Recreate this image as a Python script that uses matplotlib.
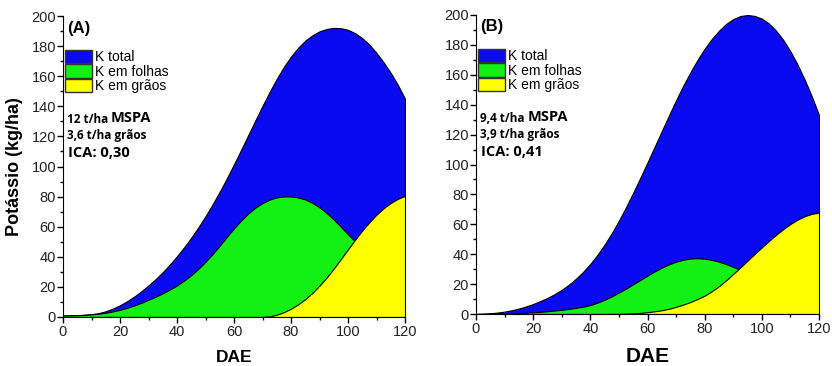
import matplotlib
matplotlib.use("Agg")
import matplotlib.pyplot as plt
from matplotlib.patches import Patch
from matplotlib.ticker import MultipleLocator

dae = [0, 2.5, 5, 7.5, 10, 12.5, 15, 17.5, 20, 22.5, 25, 27.5, 30, 32.5, 35, 37.5,
       40, 42.5, 45, 47.5, 50, 52.5, 55, 57.5, 60, 62.5, 65, 67.5, 70, 72.5, 75, 77.5,
       80, 82.5, 85, 87.5, 90, 92.5, 95, 97.5, 100, 102.5, 105, 107.5, 110, 112.5, 115, 117.5, 120]

total_a = [1, 1.1, 1.25, 1.5, 1.9, 2.6, 3.8, 5.6, 7.8, 10.5, 13.6, 17.1, 21, 25.2, 29.8, 34.9,
           40.4, 46.3, 52.7, 59.6, 67, 74.9, 83.3, 92.2, 101.5, 111.1, 120.9, 130.7, 140.3, 149.6, 158.3, 166.2,
           173.1, 178.9, 183.6, 187.2, 189.8, 191.4, 192.1, 191.9, 190.8, 188.6, 185.3, 180.9, 175.5, 169.2, 162.2, 154.2, 145]
folhas_a = [1, 1.08, 1.2, 1.4, 1.7, 2.15, 2.8, 3.7, 4.8, 6.1, 7.65, 9.45, 11.45, 13.5, 15.75, 18.25,
            21, 24.2, 27.85, 32, 36.7, 41.9, 47.45, 53.2, 58.9, 64.15, 68.8, 72.7, 75.75, 78, 79.5, 80.1,
            80.1, 79.45, 78.05, 75.85, 72.85, 69.1, 64.75, 59.95, 54.95, 50.05, 45.35, 40.85, 36.6, 32.6, 28.85, 25.35, 22.1]
graos_a = [0, 0, 0, 0, 0, 0, 0, 0, 0, 0, 0, 0, 0, 0, 0, 0,
           0, 0, 0, 0, 0, 0, 0, 0, 0, 0, 0, 0, 0, 0.4, 1.5, 3.2,
           5.5, 8.4, 11.9, 16, 20.8, 26.2, 32.2, 38.5, 45, 51.4, 57.5, 63, 68, 72.3, 75.8, 78.5, 80.5]

total_b = [0, 0.2, 0.5, 0.95, 1.6, 2.5, 3.65, 5.05, 6.7, 8.65, 10.78, 13.28, 16.2, 19.63, 23.63, 28.25,
           33.55, 39.6, 46.45, 54.1, 62.5, 71.55, 81.15, 91.15, 101.45, 111.9, 122.4, 132.8, 143, 152.7, 161.7, 170,
           177.5, 184, 189.5, 194, 197.3, 199.3, 200, 199.4, 197.6, 194.3, 189.5, 183.3, 175.7, 166.8, 156.7, 145.5, 133]
folhas_b = [0, 0.05, 0.1, 0.2, 0.3, 0.45, 0.65, 0.85, 1.1, 1.45, 1.85, 2.3, 2.8, 3.4, 4.1, 4.9,
            6, 7.6, 9.5, 11.8, 14.3, 17, 19.9, 22.8, 25.7, 28.5, 31, 33.2, 35, 36.3, 37.1, 37.3,
            37, 36.2, 35, 33.4, 31.5, 29.5, 27.4, 25.3, 23.2, 21.1, 19.1, 17.2, 15.4, 13.8, 12.4, 11.2, 10.2]
graos_b = [0, 0, 0, 0, 0, 0, 0, 0, 0, 0, 0, 0, 0, 0, 0, 0,
           0, 0, 0, 0, 0.05, 0.2, 0.45, 0.75, 1.2, 1.8, 2.5, 3.5, 4.8, 6.3, 8, 10,
           12.3, 15.2, 18.6, 22.5, 26.8, 31.2, 35.7, 40.2, 44.6, 48.9, 53, 56.8, 60.2, 63.1, 65.4, 67, 67.8]

series_labels = ["K total", "K em folhas", "K em grãos"]
panel_labels = ["(A)", "(B)"]
info_a = ["12 t/ha", "MSPA", "3,6 t/ha grãos", "ICA: 0,30"]
info_b = ["9,4 t/ha", "MSPA", "3,9 t/ha grãos", "ICA: 0,41"]

colors = ["#0A0AF0", "#14F014", "#FFFF00"]

fig = plt.figure(figsize=(8.32, 3.66), dpi=100)
W, H = 832, 366

def add_axes(x0, x1, y0, y1):
    return fig.add_axes([x0 / W, 1 - y0 / H, (x1 - x0) / W, (y0 - y1) / H])

axA = add_axes(63, 405, 317, 16)
axB = add_axes(476, 819, 314, 15)

def draw(ax, total, folhas, graos, plabel, info, dae_fs, legend_x, legend_y, info_y):
    ax.fill_between(dae, 0, total, facecolor=colors[0], edgecolor="black", linewidth=0.8)
    ax.fill_between(dae, 0, folhas, facecolor=colors[1], edgecolor="black", linewidth=0.8)
    ax.fill_between(dae, 0, graos, facecolor=colors[2], edgecolor="black", linewidth=0.8)
    ax.set_xlim(0, 120)
    ax.set_ylim(0, 200)
    ax.spines["top"].set_visible(False)
    ax.spines["right"].set_visible(False)
    ax.xaxis.set_major_locator(MultipleLocator(20))
    ax.xaxis.set_minor_locator(MultipleLocator(10))
    ax.yaxis.set_major_locator(MultipleLocator(20))
    ax.yaxis.set_minor_locator(MultipleLocator(10))
    ax.tick_params(which="major", direction="out", length=4, width=1, labelsize=10.5)
    ax.tick_params(which="minor", direction="out", length=2.5, width=1)
    ax.tick_params(axis="x", pad=2)
    ax.tick_params(axis="y", pad=1)
    for lab in ax.get_xticklabels() + ax.get_yticklabels():
        lab.set_fontfamily("Liberation Sans")
        lab.set_color("#222222")
    ax.set_xlabel("DAE", fontsize=dae_fs, fontweight="bold", family="Liberation Sans", labelpad=8)
    ax.text(0.012, 0.985, plabel, transform=ax.transAxes, ha="left", va="top",
            fontsize=12, fontweight="bold", family="Liberation Sans")
    handles = [Patch(facecolor=c, edgecolor="#333333", linewidth=1) for c in colors]
    ax.legend(handles, series_labels, loc="upper left", bbox_to_anchor=(legend_x, legend_y),
              frameon=False, handlelength=1.95, handleheight=1.1,
              labelspacing=0.0, handletextpad=0.2, borderpad=0, borderaxespad=0,
              prop={"family": "Liberation Sans", "size": 10})
    t1 = ax.text(legend_x + 0.005, info_y, info[0] + " ", transform=ax.transAxes, ha="left", va="center",
                 fontsize=8.5, fontweight="bold", family="Open Sans")
    fig.canvas.draw()
    bb = t1.get_window_extent().transformed(ax.transAxes.inverted())
    ax.text(bb.x1, info_y + 0.005, info[1], transform=ax.transAxes, ha="left", va="center",
            fontsize=10.5, fontweight="bold", family="Open Sans")
    ax.text(legend_x + 0.005, info_y - 0.052, info[2], transform=ax.transAxes, ha="left", va="center",
            fontsize=8.5, fontweight="bold", family="Open Sans")
    ax.text(legend_x + 0.008, info_y - 0.11, info[3], transform=ax.transAxes, ha="left", va="center",
            fontsize=10.5, fontweight="bold", family="Open Sans")

draw(axA, total_a, folhas_a, graos_a, panel_labels[0], info_a, 12.5, 0.006, 0.887, 0.656)
draw(axB, total_b, folhas_b, graos_b, panel_labels[1], info_b, 15, 0.006, 0.887, 0.653)

axA.set_ylabel("Potássio (kg/ha)", fontsize=13, fontweight="bold", family="Liberation Sans", labelpad=6)

fig.savefig("out.png", dpi=100)
